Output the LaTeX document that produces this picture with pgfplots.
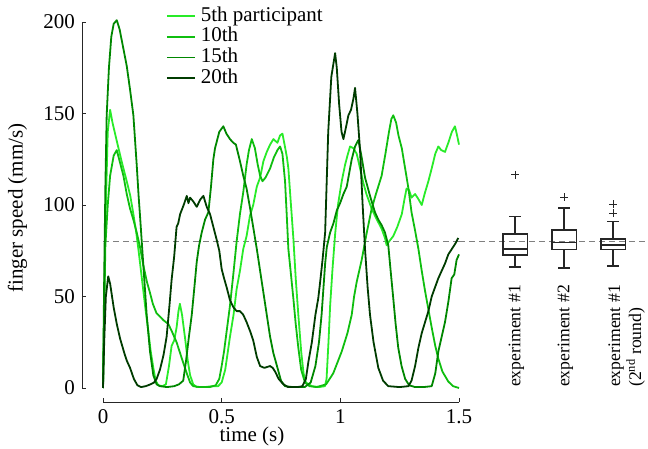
\documentclass[border=0pt]{standalone}
\usepackage{fontspec}
\setmainfont{Liberation Serif}
\usepackage{pgfplots}
\pgfplotsset{compat=1.18}
\usepgfplotslibrary{statistics}
\definecolor{c5}{RGB}{40,235,40}
\definecolor{c10}{RGB}{15,190,15}
\definecolor{c15}{RGB}{0,135,0}
\definecolor{c20}{RGB}{0,60,0}
\definecolor{axc}{RGB}{38,38,38}
\begin{document}
\fontsize{21}{23}\selectfont
\begin{tikzpicture}
\useasboundingbox (-82pt,-47pt) rectangle (566pt,402pt);
\begin{axis}[name=main, at={(0pt,0pt)}, anchor=south west, scale only axis,
  width=377pt, height=380pt,
  xmin=-0.0885, xmax=1.5, ymin=-7.65, ymax=200,
  axis lines*=left, axis line style={draw=none},
  tick align=inside, major tick length=4pt, tick style={axc, line width=0.8pt},
  xtick={0,0.5,1,1.5}, ytick={0,50,100,150,200},
  ticklabel style={font=\fontsize{21}{23}\selectfont},
  /pgf/number format/assume math mode=true,
  clip=false,
  legend style={at={(0.222,1.041)}, anchor=north west, draw=none, fill=none,
    font=\fontsize{21}{21}\selectfont, inner sep=0pt, row sep=1.7pt, column sep=5pt,
    nodes={inner sep=0pt, text height=14.5pt, text depth=4.5pt}},
  legend cell align=left,
  legend image code/.code={\draw[#1, line width=1.9pt] (0pt,0pt) -- (28pt,0pt);},
  every axis plot/.append style={line width=1.8pt, line join=round}
]
\addplot[gray, line width=0.9pt, dash pattern=on 6pt off 4pt, forget plot] coordinates {(0,80) (1.5,80)};
\addplot[c5] coordinates {(0,0) (0.01,90) (0.02,140) (0.03,152) (0.04,145) (0.058,135) (0.08,123) (0.1,113) (0.115,105) (0.128,95) (0.14,85) (0.149,76) (0.16,64) (0.17,53) (0.18,42) (0.191,31) (0.2,21) (0.212,11) (0.222,4) (0.233,1.5) (0.25,1) (0.265,2) (0.278,12) (0.289,23) (0.3,26) (0.31,33) (0.318,42) (0.324,46) (0.333,40) (0.346,27) (0.357,15) (0.367,7) (0.38,2) (0.395,0.5) (0.43,0.5) (0.46,1) (0.485,1) (0.5,3) (0.515,10) (0.535,28) (0.55,40) (0.563,54) (0.577,64) (0.591,76) (0.605,83) (0.619,94) (0.633,100) (0.648,110) (0.662,115) (0.676,124) (0.69,129) (0.704,133) (0.718,136) (0.735,134) (0.746,138) (0.756,139) (0.765,133) (0.775,126) (0.781,120) (0.792,100) (0.802,82) (0.812,60) (0.823,40) (0.835,20) (0.845,8) (0.855,3) (0.88,1) (0.91,0.5) (0.935,1) (0.942,5) (0.95,25) (0.957,45) (0.967,65) (0.978,84) (0.99,100) (1.006,113) (1.02,122) (1.03,127) (1.041,132) (1.055,131) (1.069,128) (1.083,120) (1.097,112) (1.11,106) (1.132,98) (1.15,93) (1.174,87) (1.188,82) (1.195,78) (1.205,80) (1.223,83) (1.24,88) (1.259,95) (1.27,103) (1.279,109) (1.29,108) (1.3,104) (1.315,106) (1.33,103) (1.343,100) (1.355,106) (1.371,113) (1.385,120) (1.4,128) (1.413,132) (1.425,130) (1.441,129) (1.455,134) (1.47,140) (1.483,143) (1.492,138) (1.5,133)};
\addlegendentry{5th participant}
\addplot[c10] coordinates {(0,0) (0.005,40) (0.01,78) (0.02,100) (0.03,116) (0.045,127) (0.058,130) (0.07,124) (0.086,116) (0.1,106) (0.114,98) (0.128,92) (0.142,85) (0.156,77) (0.17,67) (0.185,58) (0.198,52) (0.21,46) (0.225,41) (0.24,39) (0.255,37) (0.275,35) (0.29,31) (0.31,25) (0.33,17) (0.353,8) (0.367,3) (0.38,1) (0.41,0.5) (0.45,0.5) (0.475,1.5) (0.49,5) (0.5,12) (0.51,20) (0.522,32) (0.535,45) (0.549,62) (0.563,80) (0.577,95) (0.591,107) (0.605,122) (0.615,130) (0.627,136) (0.64,131) (0.652,122) (0.662,116) (0.672,113) (0.685,115) (0.704,120) (0.72,126) (0.735,130) (0.746,132) (0.756,128) (0.767,113) (0.774,95) (0.781,76) (0.792,62) (0.802,49) (0.812,35) (0.823,22) (0.835,10) (0.851,3) (0.87,1) (0.9,0.5) (0.94,2) (0.97,8) (1.006,20) (1.03,30) (1.048,40) (1.058,50) (1.069,58) (1.09,70) (1.11,84) (1.132,98) (1.15,106) (1.174,116) (1.19,128) (1.205,140) (1.215,147) (1.223,149) (1.235,145) (1.245,138) (1.259,131) (1.273,120) (1.287,109) (1.3,96) (1.315,86) (1.329,76) (1.343,64) (1.357,53) (1.371,43) (1.385,33) (1.4,23) (1.413,16) (1.43,9) (1.455,3.5) (1.475,1) (1.5,0)};
\addlegendentry{10th}
\addplot[c15] coordinates {(0,0) (0.005,60) (0.01,110) (0.0155,149) (0.025,175) (0.035,192) (0.045,199) (0.058,201) (0.07,196) (0.085,186) (0.1,176) (0.114,163) (0.128,149) (0.142,122) (0.15,105) (0.156,94) (0.17,67) (0.184,40) (0.198,20) (0.212,7) (0.226,2) (0.24,1) (0.27,0.5) (0.3,1) (0.32,2) (0.338,4) (0.35,15) (0.362,28) (0.374,40) (0.385,55) (0.395,69) (0.405,78) (0.416,85) (0.43,92) (0.444,96) (0.455,110) (0.465,125) (0.472,131) (0.49,140) (0.507,143) (0.52,139) (0.535,136) (0.549,134) (0.56,133) (0.577,124) (0.591,116) (0.605,109) (0.62,98) (0.634,87) (0.648,76) (0.662,64) (0.676,52) (0.69,40) (0.704,28) (0.718,19) (0.732,12.5) (0.75,4) (0.767,1) (0.8,0.5) (0.85,0.5) (0.875,3) (0.895,12) (0.91,25) (0.921,40) (0.928,53) (0.936,68) (0.943,77) (0.957,85) (0.971,90) (0.985,97) (0.999,101) (1.013,106) (1.027,110) (1.048,125) (1.062,132) (1.076,135.5) (1.09,126) (1.104,115) (1.125,105) (1.146,96) (1.16,92) (1.174,89) (1.188,85) (1.202,78) (1.212,64) (1.223,49) (1.233,35) (1.244,22) (1.258,12) (1.273,5) (1.29,1.5) (1.315,0.5) (1.35,0.5) (1.385,1) (1.4,8) (1.413,20) (1.427,28) (1.441,36) (1.455,47) (1.469,60) (1.48,62) (1.49,70) (1.5,73)};
\addlegendentry{15th}
\addplot[c20] coordinates {(0,0) (0.005,25) (0.012,50) (0.022,61) (0.03,57) (0.045,44) (0.058,35) (0.072,27) (0.09,19) (0.1,15) (0.114,11) (0.13,5) (0.145,1.5) (0.16,0.5) (0.18,1) (0.2,2) (0.215,3) (0.226,5) (0.24,10) (0.255,18) (0.268,28) (0.28,45) (0.289,59) (0.3,72) (0.31,88) (0.317,90) (0.325,95) (0.34,100) (0.353,105) (0.36,101) (0.367,104) (0.38,102) (0.395,99) (0.41,103) (0.423,105) (0.437,99) (0.451,95) (0.465,88) (0.479,81) (0.49,75) (0.5,65) (0.51,60) (0.521,55) (0.535,48) (0.55,44) (0.563,42) (0.577,42) (0.591,40) (0.605,36) (0.62,31) (0.633,26) (0.648,17) (0.662,12) (0.68,11) (0.704,12) (0.715,11) (0.725,9) (0.74,5) (0.76,2) (0.78,0.5) (0.82,0.5) (0.84,1) (0.855,5) (0.865,14) (0.88,25) (0.895,40) (0.907,49) (0.915,58) (0.925,70) (0.936,85) (0.949,140) (0.962,170) (0.978,183) (0.985,175) (0.995,155) (1.005,140) (1.013,136) (1.023,142) (1.034,149) (1.045,152) (1.055,158) (1.062,164) (1.072,150) (1.083,130) (1.094,100) (1.104,76) (1.115,55) (1.125,40) (1.14,25) (1.16,11) (1.18,4) (1.202,1) (1.25,0.5) (1.287,1) (1.3,4) (1.315,12) (1.329,22) (1.343,30) (1.357,36) (1.371,42) (1.385,50) (1.399,55) (1.413,60) (1.427,64) (1.441,68) (1.455,73) (1.47,76) (1.485,79) (1.497,82)};
\addlegendentry{20th}
\draw[axc, line width=0.8pt] (axis cs:0,-7.65) -- (axis cs:1.5,-7.65);
\draw[axc, line width=0.8pt] (axis cs:-0.0885,0) -- (axis cs:-0.0885,200);
\end{axis}
\node[rotate=90] at (-64.5pt,194pt) {finger speed (mm/s)};
\node at (170pt,-34pt) {time (s)};
\begin{axis}[at={(main.south east)}, anchor=south west, scale only axis,
  width=189pt, height=380pt, xmin=-0.143, xmax=3.714, ymin=-7.65, ymax=200,
  hide axis, clip=false,
  boxplot/draw direction=y,
  boxplot/box extend=0.5, boxplot/whisker extend=0.23]
\addplot[gray, line width=0.9pt, dash pattern=on 6pt off 4pt] coordinates {(-0.143,80) (3.714,80)};
\addplot[axc, solid, line width=1.5pt, mark=+, mark size=4pt, mark options={solid, line width=1pt},
  boxplot prepared={median=76, upper quartile=84.2, lower quartile=72.8, upper whisker=93.6, lower whisker=66, draw position=1}]
  table[row sep=\\, y index=0] {y\\116.4\\};
\addplot[axc, solid, line width=1.5pt, mark=+, mark size=4pt, mark options={solid, line width=1pt},
  boxplot prepared={median=79.4, upper quartile=86.3, lower quartile=75.8, upper whisker=98.4, lower whisker=65.6, draw position=2}]
  table[row sep=\\, y index=0] {y\\104.2\\};
\addplot[axc, solid, line width=1.5pt, mark=+, mark size=4pt, mark options={solid, line width=1pt},
  boxplot prepared={median=78.1, upper quartile=81.4, lower quartile=75.8, upper whisker=91.1, lower whisker=66.8, draw position=3}]
  table[row sep=\\, y index=0] {y\\100.4\\95.5\\};
\node[rotate=90, anchor=west, inner sep=0pt, font=\fontsize{17.7}{21}\selectfont] at (axis cs:1.03,0.5) {experiment \#1};
\node[rotate=90, anchor=west, inner sep=0pt, font=\fontsize{17.7}{21}\selectfont] at (axis cs:2.03,0.5) {experiment \#2};
\node[rotate=90, anchor=north west, inner sep=0pt, align=left, font=\fontsize{17.7}{21}\selectfont] at (axis cs:2.9,0.5) {experiment \#1\\(2\textsuperscript{nd} round)};
\end{axis}
\end{tikzpicture}
\end{document}
